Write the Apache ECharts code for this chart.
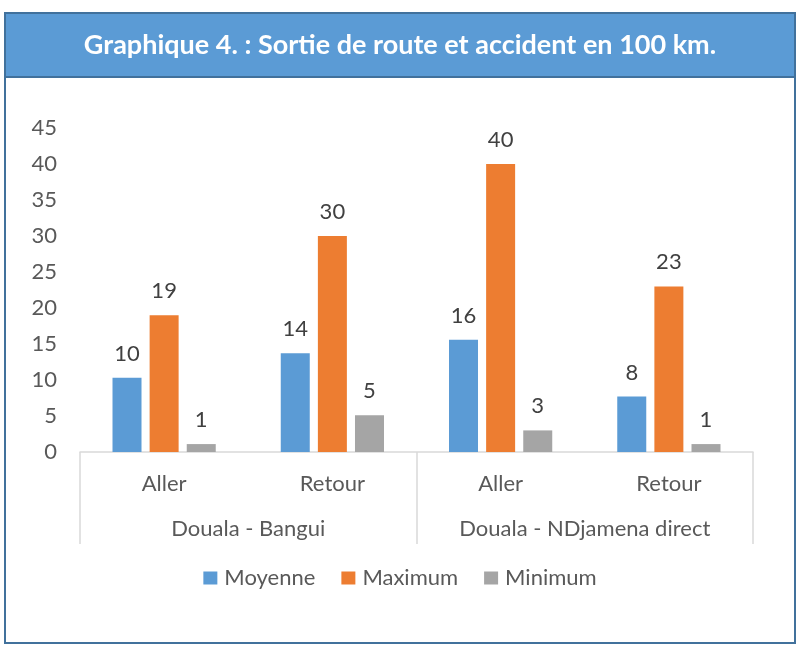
<!DOCTYPE html>
<html>
<head>
<meta charset="utf-8">
<script src="https://cdn.jsdelivr.net/npm/echarts@6/dist/echarts.min.js"></script>
<style>
  html, body { margin: 0; padding: 0; background: #fff; }
  #chart { width: 800px; height: 646px; }
</style>
</head>
<body>
<div id="chart"></div>
<script>
// données
const trips = ['Aller', 'Retour', 'Aller', 'Retour'];
const routes = ['Douala - Bangui', 'Douala - NDjamena direct'];
const moyenne = [10.3, 13.7, 15.6, 7.7];
const maximum = [19, 30, 40, 23];
const minimum = [1.1, 5.1, 3, 1.1];
const seriesNames = ['Moyenne', 'Maximum', 'Minimum'];
const colors = ['#5B9BD5', '#ED7D31', '#A5A5A5'];

const chart = echarts.init(document.getElementById('chart'));
const font = 'Lato, "Open Sans", sans-serif';

function barSeries(name, data, idx) {
  return {
    name: name,
    type: 'bar',
    data: data,
    barWidth: 29,
    barGap: '28%',
    itemStyle: { color: colors[idx] },
    label: {
      show: true,
      position: 'top',
      distance: 13,
      color: '#404040',
      fontFamily: font,
      fontSize: 22,
      formatter: p => Math.round(p.value)
    }
  };
}

const option = {
  backgroundColor: '#fff',
  animation: false,
  color: colors,
  graphic: [
    {
      type: 'rect',
      shape: { x: 5, y: 13, width: 790, height: 630 },
      style: { fill: 'none', stroke: '#41719C', lineWidth: 2 }
    },
    {
      type: 'rect',
      shape: { x: 5, y: 13, width: 790, height: 64 },
      style: { fill: '#5B9BD5', stroke: '#41719C', lineWidth: 2 }
    }
  ],
  title: {
    text: 'Graphique 4. : Sortie de route et accident en 100 km.',
    left: 'center',
    top: 27,
    textStyle: {
      color: '#fff',
      fontFamily: font,
      fontWeight: 'bold',
      fontSize: 27
    }
  },
  legend: {
    data: seriesNames,
    bottom: 52,
    left: 'center',
    itemWidth: 14,
    itemHeight: 13,
    itemGap: 26,
    icon: 'rect',
    textStyle: { color: '#595959', fontFamily: font, fontSize: 22, padding: [0, 0, 0, 2] }
  },
  grid: { left: 80, right: 47, top: 128, bottom: 194 },
  xAxis: [
    {
      type: 'category',
      data: trips,
      axisLine: { lineStyle: { color: '#D9D9D9', width: 1.5 } },
      axisTick: { show: false },
      axisLabel: { color: '#595959', fontFamily: font, fontSize: 22, margin: 21 }
    },
    {
      type: 'category',
      data: routes,
      position: 'bottom',
      axisLine: { show: false },
      axisTick: {
        show: true,
        length: 92,
        lineStyle: { color: '#D9D9D9', width: 1.5 }
      },
      axisLabel: { color: '#595959', fontFamily: font, fontSize: 22, margin: 66 }
    }
  ],
  yAxis: {
    type: 'value',
    min: 0,
    max: 45,
    interval: 5,
    axisLine: { show: false },
    axisTick: { show: false },
    splitLine: { show: false },
    axisLabel: { color: '#595959', fontFamily: font, fontSize: 22, margin: 23 }
  },
  series: [
    barSeries('Moyenne', moyenne, 0),
    barSeries('Maximum', maximum, 1),
    barSeries('Minimum', minimum, 2)
  ]
};

chart.setOption(option);
</script>
</body>
</html>
